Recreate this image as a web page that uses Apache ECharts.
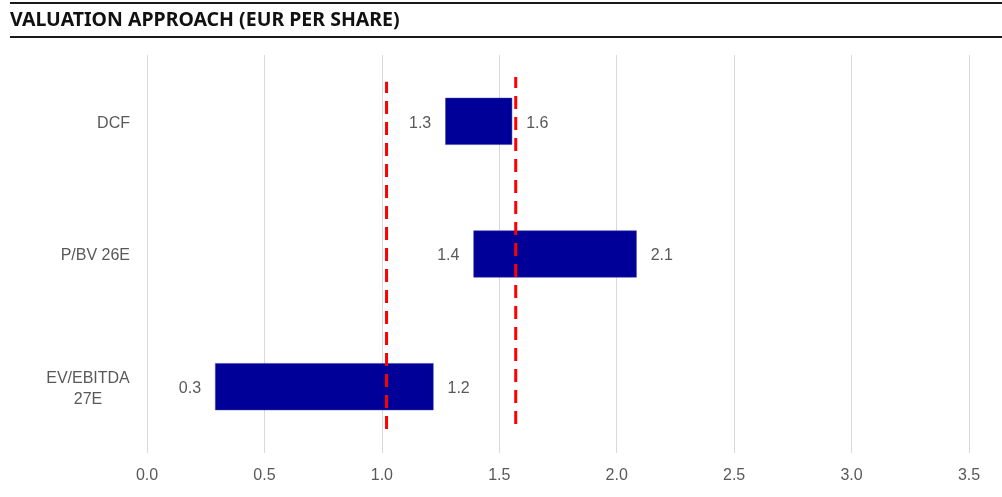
<!DOCTYPE html>
<html>
<head>
<meta charset="utf-8">
<script src="https://cdn.jsdelivr.net/npm/echarts@6/dist/echarts.min.js"></script>
<style>html,body{margin:0;padding:0;background:#fff}#c{width:1002px;height:497px}</style>
</head>
<body>
<div id="c"></div>
<script>
const titleText = 'VALUATION APPROACH (EUR PER SHARE)';
const categories = ['DCF', 'P/BV 26E', 'EV/EBITDA\n27E'];
const lowValues = [1.27, 1.39, 0.29];
const highValues = [1.555, 2.085, 1.22];
const xTicks = [0.0, 0.5, 1.0, 1.5, 2.0, 2.5, 3.0, 3.5];
const refLineX = [1.02, 1.57];
const refLineSpans = [[0.06, 0.933], [0.073, 0.945]];

const chart = echarts.init(document.getElementById('c'), null, {renderer: 'canvas'});
const labelColor = '#595959';
const font = 'Liberation Sans, Arial, sans-serif';

const refSeries = refLineX.map((x, i) => ({
  type: 'line',
  xAxisIndex: 0,
  yAxisIndex: 1,
  data: [[x, refLineSpans[i][0]], [x, refLineSpans[i][1]]],
  symbol: 'none',
  silent: true,
  z: 5,
  lineStyle: {color: '#ff0000', width: 3, type: [13, 8]}
}));

chart.setOption({
  animation: false,
  title: {
    text: titleText,
    left: 10, top: 10, padding: 0,
    textStyle: {fontFamily: 'Noto Sans', fontWeight: 'bold', fontSize: 19.5, color: '#111', lineHeight: 20}
  },
  graphic: [
    {type: 'rect', shape: {x: 10, y: 2, width: 992, height: 2}, style: {fill: '#1a1a1a'}},
    {type: 'rect', shape: {x: 10, y: 36, width: 992, height: 2}, style: {fill: '#1a1a1a'}}
  ],
  grid: {left: 147, right: 33, top: 55, bottom: 44, containLabel: false},
  xAxis: {
    type: 'value', min: xTicks[0], max: xTicks[xTicks.length - 1], interval: 0.5,
    axisLine: {show: false}, axisTick: {show: false},
    splitLine: {show: true, lineStyle: {color: '#d9d9d9', width: 1}},
    axisLabel: {color: labelColor, fontSize: 16, fontFamily: font, margin: 15,
      formatter: v => v.toFixed(1)}
  },
  yAxis: [
    {
      type: 'category', data: categories, inverse: true,
      axisLine: {show: false}, axisTick: {show: false}, splitLine: {show: false},
      axisLabel: {
        color: labelColor, fontSize: 16, fontFamily: font, margin: 17, lineHeight: 21,
        padding: [4, 0, 0, 0],
        formatter: v => v.indexOf('\n') >= 0 ? v.split('\n').map(s => '{c|' + s + '}').join('\n') : v,
        rich: {c: {width: 84, align: 'center', color: labelColor, fontSize: 16, fontFamily: font, lineHeight: 21}}
      }
    },
    {type: 'value', min: 0, max: 1, show: false}
  ],
  series: [
    {
      type: 'bar', stack: 'r', yAxisIndex: 0, barWidth: 47,
      data: lowValues,
      itemStyle: {color: 'rgba(0,0,0,0)'},
      label: {show: true, position: 'insideRight', distance: 14, color: labelColor, offset: [0, 2],
        fontSize: 16, fontFamily: font, formatter: p => p.value.toFixed(1)},
      silent: true
    },
    {
      type: 'bar', stack: 'r', yAxisIndex: 0, barWidth: 47,
      data: highValues.map((h, i) => h - lowValues[i]),
      itemStyle: {color: '#000099', borderColor: '#3a3aaa', borderWidth: 0.5},
      label: {show: true, position: 'right', distance: 14, color: labelColor, offset: [0, 2],
        fontSize: 16, fontFamily: font, formatter: p => highValues[p.dataIndex].toFixed(1)}
    },
    ...refSeries
  ]
});
</script>
</body>
</html>
